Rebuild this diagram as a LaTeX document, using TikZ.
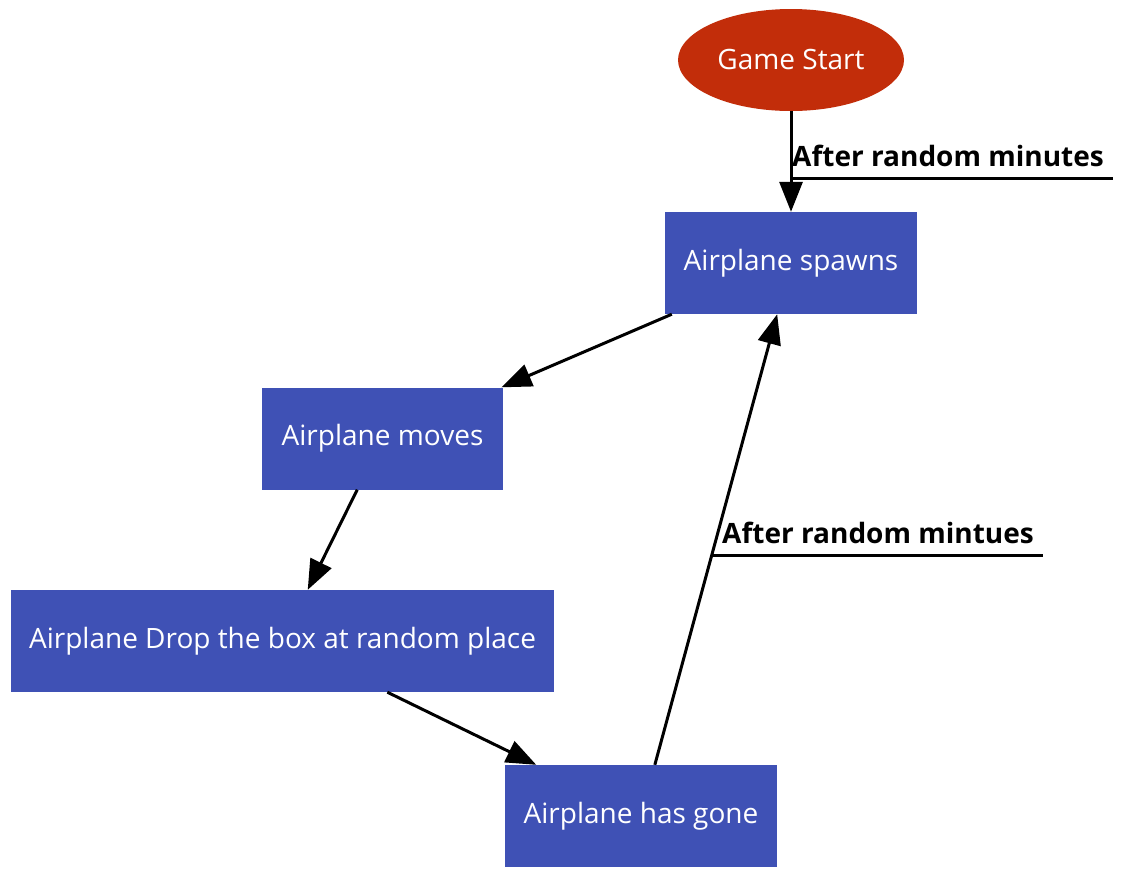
\documentclass[tikz,border=0pt]{standalone}
\usepackage{fontspec}
\setmainfont{Open Sans}
\usetikzlibrary{arrows.meta,shapes.geometric}
\definecolor{startred}{RGB}{194,45,10}
\definecolor{boxblue}{RGB}{63,81,181}
\begin{document}
\begin{tikzpicture}[x=1pt,y=-1pt,
  every node/.style={font=\fontsize{28}{32}\selectfont},
  box/.style={rectangle, fill=boxblue, text=white, inner sep=0pt},
  startnode/.style={ellipse, fill=startred, text=white, inner sep=0pt, minimum width=226pt, minimum height=102pt},
  conn/.style={line width=3pt, -{Triangle[length=30pt,width=23pt]}},
  lab/.style={font=\bfseries\fontsize{28}{32}\selectfont, inner sep=0pt, anchor=base west},
  uline/.style={line width=3pt}]
\useasboundingbox (0,0) rectangle (1139,892);
\node[startnode] (start) at (791,60) {\raisebox{2pt}{Game Start}};
\node[box, minimum width=252pt, minimum height=102pt] (spawn) at (791,263) {Airplane spawns};
\node[box, minimum width=241pt, minimum height=102pt] (moves) at (382.5,438.5) {Airplane moves};
\node[box, minimum width=543pt, minimum height=102pt] (drop) at (282.5,641) {Airplane Drop the box at random place};
\node[box, minimum width=272pt, minimum height=102pt] (gone) at (641,816) {Airplane has gone};
\draw[conn] (start) -- (spawn);
\draw[conn] (spawn) -- (moves);
\draw[conn] (moves) -- (drop);
\draw[conn] (drop) -- (gone);
\draw[conn] (gone) -- (spawn);
\coordinate (u1) at (791,178);
\coordinate (u1e) at (1113,178);
\node[lab] (l1) at (792,166) {After random minutes};
\draw[uline] (u1) -- (u1e);
\coordinate (u2) at (713,555);
\coordinate (u2e) at (1043,555);
\node[lab] (l2) at (722,543) {After random mintues};
\draw[uline] (u2) -- (u2e);
\end{tikzpicture}
\end{document}
